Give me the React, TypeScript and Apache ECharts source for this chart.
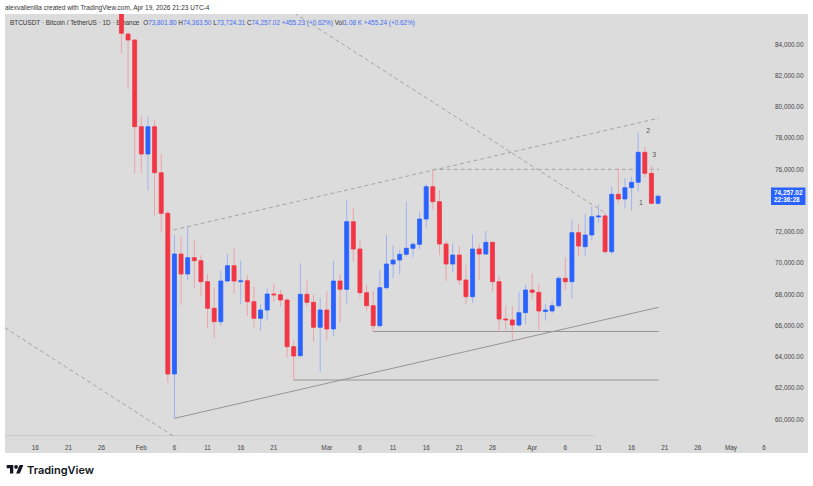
import React, { useEffect, useRef } from 'react';
import * as echarts from 'echarts';

// ---------- data ----------
const FIRST_DAY = '2026-01-12';
const DAY_COUNT = 116;
const CANDLE_START = '2026-01-29';

const opens = [
  87900,
  84640, 84256,
  78707, 76960, 78707, 75765, 73163, 62880, 70560, 69280, 70325, 70133,
  68789, 67083, 66229, 68832, 69813, 68800, 68850, 67509, 66443, 66976,
  68000, 67957, 67616, 64629, 64050, 67979, 67467, 65867,
  66976, 65760, 68832, 68299, 72629, 70880, 68085, 67253, 65973, 68405,
  69920, 70176, 70539, 70923, 71179, 72800, 74869, 73909, 71200, 69920,
  70496, 68896, 67829, 70880, 70560, 71307, 68789, 66400, 66340, 66016, 66805,
  68256, 68107, 66880, 66912, 67253, 69003, 68789, 71925, 71029, 71776,
  72949, 73000, 70709, 74379, 74080, 74805, 75147, 77067, 75725, 73801.8,
];
const closes = [
  84683,
  84256, 78707,
  76960, 78707, 75765, 73163, 62880, 70560, 69280, 70325, 70133, 68789,
  67083, 66229, 68832, 69813, 68832, 68850, 67509, 66443, 66976, 68000,
  67936, 67616, 64629, 64032, 67979, 67467, 65867, 66976,
  65760, 68832, 68299, 72629, 70880, 68085, 67253, 65973, 68405, 69920,
  70176, 70539, 70923, 71179, 72800, 74869, 73909, 71200, 69920, 70496,
  68896, 67829, 70880, 70560, 71307, 68789, 66400, 66340, 66016, 66805, 68256,
  68107, 66912, 66980, 67253, 69003, 68789, 71925, 71072, 71776, 72949,
  73000, 70709, 74379, 74080, 74805, 75147, 77067, 75725, 73801.8, 74257.02,
];
const lows = [
  83403,
  81099, 75725,
  75725, 74613, 72949, 71925, 62325, 60043, 67296, 68896, 68363, 67829,
  65803, 65163, 65952, 68789, 68043, 67360, 66592, 65867, 65653, 66293,
  67509, 67189, 63947, 62496, 63947, 67189, 64949, 63029,
  65056, 65269, 66165, 67403, 70069, 67765, 66933, 65589, 65845, 68300,
  69003, 69259, 70389, 70347, 70859, 72267, 73419, 70496, 68832, 69387,
  68576, 67360, 67445, 68896, 70496, 68149, 65547, 65696, 65056, 65900, 66080,
  67659, 65696, 66293, 66765, 67100, 68256, 67723, 70389, 70432, 71456,
  72523, 70600, 70560, 73803, 73504, 73333, 74549, 75467, 73760, 73724.31,
];
const highs = [
  88300,
  84748, 84300,
  79392, 79350, 79180, 76960, 73333, 71776, 71669, 72309, 71456, 70496,
  69280, 68427, 69493, 70560, 70923, 70133, 69216, 68469, 67360, 68363,
  68683, 68256, 67700, 65013, 69963, 68853, 68000, 67765,
  68192, 70112, 69259, 74059, 73547, 71456, 68576, 68192, 69536, 71776,
  71117, 70837, 73909, 71350, 73269, 75019, 75979, 74656, 71413, 71243,
  71072, 69856, 71819, 71200, 72032, 71350, 69152, 67253, 67230, 68149, 68576,
  69323, 68683, 67360, 67552, 69152, 70347, 72779, 72500, 73120, 73589,
  73739, 73200, 74869, 76043, 75424, 75509, 78325, 77429, 76192, 74363.5,
];

const xTickDates = [
  '2026-01-16', '2026-01-21', '2026-01-26', '2026-02-01', '2026-02-06', '2026-02-11',
  '2026-02-16', '2026-02-21', '2026-03-01', '2026-03-06', '2026-03-11', '2026-03-16',
  '2026-03-21', '2026-03-26', '2026-04-01', '2026-04-06', '2026-04-11', '2026-04-16',
  '2026-04-21', '2026-04-26', '2026-05-01', '2026-05-06',
];
const xTickTexts = [
  '16', '21', '26', 'Feb', '6', '11', '16', '21', 'Mar', '6', '11', '16',
  '21', '26', 'Apr', '6', '11', '16', '21', '26', 'May', '6',
];

const Y_MIN = 58000;
const Y_MAX = 86000;
const Y_STEP = 2000;
const hiddenYTicks = [58000, 74000, 86000];

// drawings: [date, day shift, price]
const descLineUpper = [['2026-02-01', 0, 92276], ['2026-04-11', 0.73, 73267]];
const descLineLower = [['2026-01-12', -0.6, 65844], ['2026-02-06', -0.17, 58912]];
const channelTop = [['2026-02-06', -0.15, 72100], ['2026-04-20', 0.1, 79250]];
const channelBottom = [['2026-02-06', 0, 60043], ['2026-04-20', 0.1, 67150]];
const resistanceLevel = [['2026-03-17', 0, 75980], ['2026-04-20', 0.1, 75980]];
const supportLevelLow = [['2026-02-24', 0, 62496], ['2026-04-20', 0.1, 62496]];
const supportLevelMid = [['2026-03-08', 0, 65600], ['2026-04-20', 0.1, 65600]];

const waveLabels = ['1', '2', '3'];
const waveLabelPoints = [['2026-04-17', 0.42, 73869], ['2026-04-18', 0.5, 78496], ['2026-04-19', 0.4, 76928]];

const lastPrice = 74257.02;
const countdown = '22:36:28';

const legendTitle = 'BTCUSDT · Bitcoin / TetherUS · 1D · Binance';
const legendItems = [
  ['O', '73,801.80'], ['H', '74,363.50'], ['L', '73,724.31'], ['C', '74,257.02'],
  ['', '+455.23 (+0.62%)'], ['Vol', '1.08 K'], ['', '+455.24 (+0.62%)'],
];
const headerText = 'alexvallenilla created with TradingView.com, Apr 19, 2026 21:23 UTC-4';

// ---------- helpers ----------
const MS = 86400000;
const t0 = Date.parse(FIRST_DAY + 'T00:00:00Z');
const dayIndex = (s: string) => Math.round((Date.parse(s + 'T00:00:00Z') - t0) / MS);
const categories = Array.from({ length: DAY_COUNT }, (_, i) =>
  new Date(t0 + i * MS).toISOString().slice(0, 10)
);
const tickMap: Record<string, string> = {};
xTickDates.forEach((d, i) => (tickMap[d] = xTickTexts[i]));
const toXY = (p: any[]) => [dayIndex(p[0]) + p[1], p[2]];

const FONT = '"Liberation Sans", Arial, sans-serif';
const BLUE = '#2962ff';
const RED = '#f23645';
const BLUE_WICK = '#9fb2f2';
const RED_WICK = '#eea2a9';
const BG = '#dcdcdc';
const TRANSPARENT = 'rgba(0,0,0,0)';

let registered = false;
function registerLogo() {
  if (registered) return;
  registered = true;
  const d = 'M14 22H7V11H0V4h14v18zM28 22h-8l7.5-18h8L28 22zM16 8a4 4 0 1 0 8 0a4 4 0 1 0-8 0z';
  echarts.graphic.registerShape('tvlogo', echarts.graphic.extendPath(d, {}) as any);
}

export default function App() {
  const ref = useRef<HTMLDivElement>(null);
  useEffect(() => {
    if (!ref.current) return;
    registerLogo();
    const chart = echarts.init(ref.current, null, { renderer: 'svg' });
    const start = dayIndex(CANDLE_START);
    const candleData = opens.map((o, i) => [start + i, o, closes[i], lows[i], highs[i]]);

    const lineSeries = (pts: any[], dashed: boolean, color: string) => ({
      type: 'line',
      xAxisIndex: 0,
      yAxisIndex: 0,
      data: pts.map(toXY),
      symbol: 'none',
      silent: true,
      z: 3,
      lineStyle: { color, width: 1, type: dashed ? [4, 3] : 'solid' },
    });

    const LF = `6.4px ${FONT}`;
    const legendRich =
      `{k|${legendTitle}}  ` +
      legendItems.map((it) => (it[0] ? `{k|${it[0]}}` : '') + `{v|${it[1]}}`).join(' ');

    const option: any = {
      animation: false,
      backgroundColor: '#ffffff',
      grid: [
        { left: 5.5, right: 39, top: 12.75, bottom: 35.75 },
        { left: 5.5, right: 39, top: 435, height: 1 },
      ],
      xAxis: [
        { type: 'value', gridIndex: 0, min: -0.5, max: DAY_COUNT - 0.5, show: false },
        {
          type: 'category',
          gridIndex: 1,
          data: categories,
          boundaryGap: true,
          axisLine: { show: false },
          axisTick: { show: false },
          splitLine: { show: false },
          axisLabel: {
            interval: (_i: number, v: string) => tickMap[v] !== undefined,
            formatter: (v: string) => tickMap[v] || '',
            fontFamily: FONT,
            fontSize: 6.4,
            color: '#444',
            margin: 8,
          },
        },
      ],
      yAxis: [
        {
          type: 'value',
          gridIndex: 0,
          position: 'right',
          min: Y_MIN,
          max: Y_MAX,
          interval: Y_STEP,
          axisLine: { show: false },
          axisTick: { show: false },
          splitLine: { show: false },
          axisLabel: {
            margin: 1,
            fontFamily: FONT,
            fontSize: 6.4,
            color: '#444',
            formatter: (v: number) =>
              hiddenYTicks.includes(v)
                ? ''
                : v.toLocaleString('en-US', { minimumFractionDigits: 2, maximumFractionDigits: 2 }),
          },
        },
        { type: 'value', gridIndex: 1, show: false },
      ],
      series: [
        {
          type: 'custom',
          xAxisIndex: 0,
          yAxisIndex: 0,
          clip: true,
          z: 5,
          encode: { x: 0, y: [1, 2, 3, 4] },
          data: candleData,
          renderItem: (_p: any, api: any) => {
            const x = api.value(0);
            const o = api.value(1);
            const c = api.value(2);
            const l = api.value(3);
            const h = api.value(4);
            const pO = api.coord([x, o]);
            const pC = api.coord([x, c]);
            const pL = api.coord([x, l]);
            const pH = api.coord([x, h]);
            const up = c >= o;
            const w = 4;
            const top = Math.min(pO[1], pC[1]);
            const bh = Math.max(1, Math.abs(pO[1] - pC[1]));
            const col = up ? BLUE : RED;
            return {
              type: 'group',
              children: [
                {
                  type: 'line',
                  shape: { x1: pH[0], y1: pH[1], x2: pL[0], y2: pL[1] },
                  style: { stroke: up ? BLUE_WICK : RED_WICK, lineWidth: 1 },
                },
                {
                  type: 'rect',
                  shape: { x: pO[0] - w / 2, y: top, width: w, height: bh },
                  style: { fill: col, stroke: col, lineWidth: 0.8 },
                },
              ],
            };
          },
        },
        lineSeries(descLineUpper, true, '#a4a4a4'),
        lineSeries(descLineLower, true, '#a4a4a4'),
        lineSeries(channelTop, true, '#a4a4a4'),
        lineSeries(resistanceLevel, true, '#a4a4a4'),
        lineSeries(channelBottom, false, '#959595'),
        lineSeries(supportLevelLow, false, '#959595'),
        lineSeries(supportLevelMid, false, '#959595'),
        {
          type: 'line',
          xAxisIndex: 0,
          yAxisIndex: 0,
          data: [],
          silent: true,
          clip: false,
          z: 8,
          markLine: {
            silent: true,
            symbol: 'none',
            lineStyle: { color: TRANSPARENT, width: 0 },
            data: [{ yAxis: lastPrice }],
            label: {
              show: true,
              position: 'end',
              distance: -3,
              formatter: () =>
                lastPrice.toLocaleString('en-US', { minimumFractionDigits: 2 }) + '\n' + countdown,
              backgroundColor: BLUE,
              color: '#ffffff',
              fontFamily: FONT,
              fontSize: 6.4,
              fontWeight: 'bold',
              lineHeight: 7.5,
              padding: [1.5, 3, 1, 3],
            },
          },
        },
        {
          type: 'scatter',
          xAxisIndex: 0,
          yAxisIndex: 0,
          silent: true,
          z: 6,
          symbolSize: 1,
          itemStyle: { color: TRANSPARENT },
          data: waveLabelPoints.map((p, i) => ({ value: toXY(p), name: waveLabels[i] })),
          label: {
            show: true,
            position: 'inside',
            formatter: (p: any) => p.name,
            fontFamily: FONT,
            fontSize: 7,
            color: '#2a2a2a',
          },
        },
      ],
      graphic: [
        { type: 'rect', z: -10, shape: { x: 5, y: 14, width: 803, height: 439 }, style: { fill: BG } },
        { type: 'line', z: -9, shape: { x1: 5, y1: 435.5, x2: 595, y2: 435.5 }, style: { stroke: '#c9c9c9', lineWidth: 1 } },
        { type: 'rect', z: 10, shape: { x: 0, y: 0, width: 813, height: 14 }, style: { fill: '#ffffff' } },
        {
          type: 'text', z: 11, x: 5, y: 7.5,
          style: { text: headerText, font: `6.5px ${FONT}`, fill: '#333', verticalAlign: 'middle' },
        },
        {
          type: 'text', z: 1, x: 10, y: 22.5,
          style: {
            text: legendRich,
            font: LF,
            verticalAlign: 'middle',
            rich: {
              k: { fill: '#333', color: '#333', font: LF },
              v: { fill: '#3d6df5', color: '#3d6df5', font: LF },
            },
          },
        },
        { type: 'tvlogo', x: 6.7, y: 463.2, scaleX: 0.47, scaleY: 0.47, style: { fill: '#131722' } },
        {
          type: 'text', x: 27, y: 469.5,
          style: { text: 'TradingView', font: `600 11px Inter, ${FONT}`, fill: '#131722', verticalAlign: 'middle' },
        },
      ],
    };
    chart.setOption(option);
    return () => chart.dispose();
  }, []);
  return <div ref={ref} style={{ position: 'absolute', left: 0, top: 0, width: 813, height: 486 }} />;
}
